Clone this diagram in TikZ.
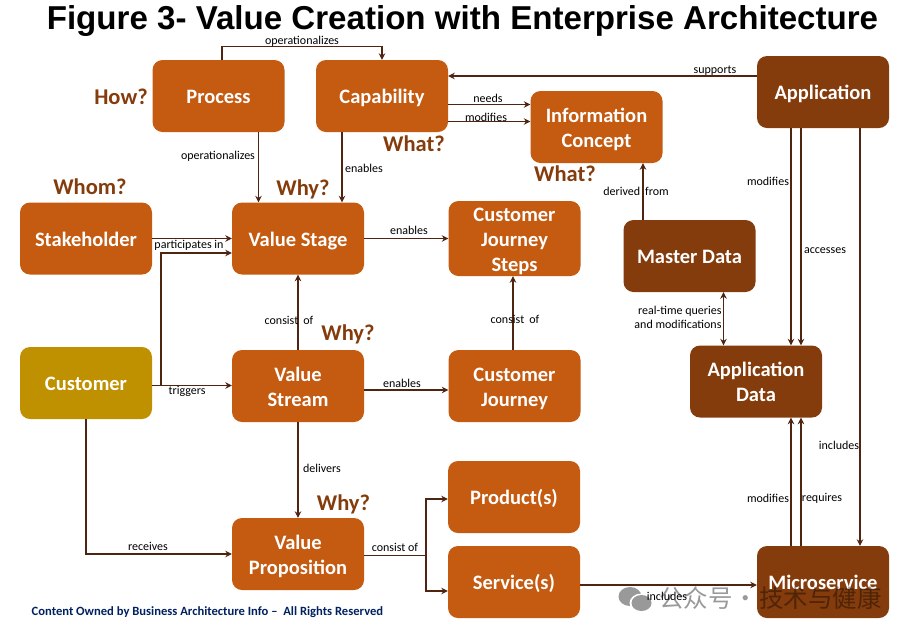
\documentclass[tikz,border=0pt]{standalone}
\usepackage{fontspec}
\usepackage{xcolor}
\usetikzlibrary{arrows.meta}
\setmainfont{Carlito}
\newfontfamily\titlefont{Liberation Sans}
\newfontfamily\cjkfont{Noto Sans CJK SC}
\definecolor{boxorange}{HTML}{C55A11}
\definecolor{boxbrown}{HTML}{843C0C}
\definecolor{boxgold}{HTML}{BF9000}
\definecolor{linebrown}{HTML}{4F2410}
\definecolor{footernavy}{HTML}{002060}
\newcommand{\boxstrut}{\rule[-5pt]{0pt}{25pt}}
\tikzset{
  box/.style={fill=boxorange, rounded corners=10pt, minimum width=132pt, minimum height=72pt,
    inner sep=0pt, align=center, text=white, font=\fontsize{20.5}{25}\selectfont\bfseries},
  flow/.style={draw=linebrown, line width=1.1pt, -{Stealth[length=6.5pt,width=6.5pt]}},
  branch/.style={draw=linebrown, line width=1.1pt},
  lbl/.style={inner sep=0pt, font=\fontsize{12}{13.5}\selectfont, text=black, align=center},
  ask/.style={inner sep=0pt, font=\fontsize{22.5}{25}\selectfont\bfseries, text=boxbrown},
}
\begin{document}
\begin{tikzpicture}[x=1pt,y=-1pt]
\useasboundingbox (0,0) rectangle (911,633);
\node[inner sep=0pt, font=\titlefont\fontsize{33.1}{38}\selectfont\bfseries] (title) at (462.5,21.5) {Figure 3- Value Creation with Enterprise Architecture};

\node[box] (process) at (218.5,96) {\boxstrut Process};
\node[box] (capability) at (382,96) {\boxstrut Capability};
\node[box] (infoconcept) at (596.5,127) {\boxstrut Information\\\boxstrut Concept};
\node[box, fill=boxbrown] (application) at (823,92) {\boxstrut Application};
\node[box] (stakeholder) at (86,238.5) {\boxstrut Stakeholder};
\node[box] (valuestage) at (298,238.5) {\boxstrut Value Stage};
\node[box] (journeysteps) at (514.5,238.5) {\boxstrut Customer\\Journey\\\boxstrut Steps};
\node[box, fill=boxbrown] (masterdata) at (689.5,256) {\boxstrut Master Data};
\node[box, fill=boxgold] (customer) at (86,383) {\boxstrut Customer};
\node[box] (valuestream) at (298,386) {\boxstrut Value\\\boxstrut Stream};
\node[box] (journey) at (514.5,386) {\boxstrut Customer\\\boxstrut Journey};
\node[box, fill=boxbrown] (appdata) at (756,381.5) {\boxstrut Application\\\boxstrut Data};
\node[box] (product) at (514,497) {\boxstrut Product(s)};
\node[box] (service) at (514,582) {\boxstrut Service(s)};
\node[box] (valueprop) at (298,554) {\boxstrut Value\\\boxstrut Proposition};
\node[box, fill=boxbrown] (microservice) at (823,582) {\boxstrut Microservice};

% top row
\draw[flow] ([xshift=3.5pt]process.north) -- ++(0,-13.5) -| (capability.north);
\draw[flow] ([xshift=40pt]process.south) -- ([xshift=-39.5pt]valuestage.north);
\draw[flow] ([xshift=-40pt]capability.south) -- ([xshift=44pt]valuestage.north);
\draw[flow] ([yshift=16pt]application.west) -- ([yshift=20pt]capability.east);
\draw[flow] ([yshift=-8.5pt]capability.east) -- ([yshift=22.5pt]infoconcept.west);
\draw[flow] ([yshift=-25.5pt]capability.east) -- ([yshift=5.5pt]infoconcept.west);

% left side
\draw[flow] (stakeholder.east) -- (valuestage.west);
\coordinate (customerout) at ([yshift=-2.5pt]customer.east);
\draw[flow] (customerout) -- ([yshift=0.5pt]valuestream.west);
\draw[flow] (customerout -| 161,0) -- (161,253) -- ([yshift=-14.5pt]valuestage.west);
\draw[flow] (customer.south) |- (valueprop.west);

% middle
\draw[flow] (valuestage.east) -- (journeysteps.west);
\draw[flow] (valuestream.north) -- (valuestage.south);
\draw[flow] ([yshift=-4pt]valuestream.east) -- ([yshift=-4pt]journey.west);
\draw[flow] ([xshift=-1.5pt]journey.north) -- ([xshift=-1.5pt]journeysteps.south);
\draw[flow] (valuestream.south) -- (valueprop.north);
\coordinate (fork) at (426,555.5);
\draw[branch] ([yshift=-1.5pt]valueprop.east) -- (fork);
\draw[flow] (fork) |- ([yshift=-2pt]product.west);
\draw[flow] (fork) |- ([yshift=-9pt]service.west);
\draw[flow] ([yshift=-3pt]service.east) -- ([yshift=-3pt]microservice.west);

% right side
\draw[flow] ([xshift=-46.5pt]masterdata.north) -- ([xshift=46.5pt]infoconcept.south);
\draw[flow, {Stealth[length=6.5pt,width=6.5pt]}-{Stealth[length=6.5pt,width=6.5pt]}] ([xshift=34pt]masterdata.south) -- ([xshift=-32.5pt]appdata.north);
\draw[flow] ([xshift=-32pt]application.south) -- ([xshift=35pt]appdata.north);
\draw[flow] ([xshift=-22pt]application.south) -- ([xshift=45pt]appdata.north);
\draw[flow] ([xshift=37pt]application.south) -- ([xshift=37pt]microservice.north);
\draw[flow] ([xshift=-32pt]microservice.north) -- ([xshift=35pt]appdata.south);
\draw[flow] ([xshift=-22pt]microservice.north) -- ([xshift=45pt]appdata.south);

\node[lbl] (lblopertop) at (302,41) {operationalizes};
\node[lbl] (lbloperleft) at (218,156) {operationalizes};
\node[lbl] (lblenablescap) at (364,168) {enables};
\node[lbl] (lblsupports) at (715,70.5) {supports};
\node[lbl] (lblneeds) at (488,98.5) {needs};
\node[lbl] (lblmodinfo) at (486,117) {modifies};
\node[lbl] (lblderived) at (636,191.5) {derived\hspace{5pt}from};
\node[lbl] (lblparticipates) at (189,245) {participates in};
\node[lbl] (lbltriggers) at (187,391.5) {triggers};
\node[lbl] (lblenablesstage) at (409,230) {enables};
\node[lbl] (lblconsiststage) at (289,320) {consist\hspace{5pt}of};
\node[lbl] (lblconsistjourney) at (515,319) {consist\hspace{5pt}of};
\node[lbl] (lblenablesstream) at (402,383.5) {enables};
\node[lbl] (lbldelivers) at (322,468.5) {delivers};
\node[lbl] (lblreceives) at (148,546) {receives};
\node[lbl] (lblconsistprop) at (395,547) {consist of};
\node[lbl, align=right] (lblrealtime) at (678,317.5) {real-time queries\\and modifications};
\node[lbl] (lblmodapp) at (768,181) {modifies};
\node[lbl] (lblaccesses) at (825,251) {accesses};
\node[lbl] (lblincludesapp) at (839,445.5) {includes};
\node[lbl] (lblmodmicro) at (768,498.5) {modifies};
\node[lbl] (lblrequires) at (822,498.5) {requires};

\node[ask] (askhow) at (121,97) {How?};
\node[ask] (askwhatcap) at (414,144) {What?};
\node[ask] (askwhom) at (90,187) {Whom?};
\node[ask] (askwhystage) at (303,189) {Why?};
\node[ask] (askwhatinfo) at (565,174) {What?};
\node[ask] (askwhystream) at (348,334.5) {Why?};
\node[ask] (askwhyprop) at (343.5,504.5) {Why?};

\node[inner sep=0pt, anchor=west, font=\fontsize{12.6}{14}\selectfont\bfseries, text=footernavy] (footer) at (31.5,612) {Content Owned by Business Architecture Info --\ \ All Rights Reserved};

% watermark
\fill[black!40] (630,596.5) ellipse (11.5 and 9.5);
\fill[white] (641.5,603) ellipse (12 and 9.5);
\fill[black!40] (641.5,603) ellipse (10 and 8);
\node[inner sep=0pt, anchor=west, text=black, text opacity=0.4, font=\cjkfont\fontsize{24.5}{28}\selectfont] (watermark) at (659,598) {公众号\hspace{1pt}·\hspace{1pt}技术与健康};
\node[lbl] (lblincludesservice) at (667,596) {includes};
\end{tikzpicture}
\end{document}
